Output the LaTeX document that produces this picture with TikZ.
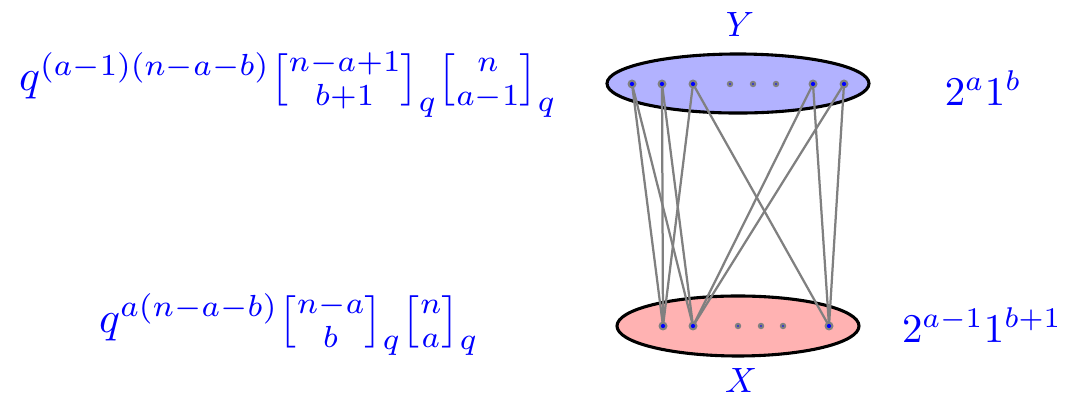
\documentclass[tikz,border=0pt]{standalone}
\usepackage{amsmath}
\newcommand{\qbin}[2]{\genfrac{[}{]}{0pt}{}{#1}{#2}_q}
\tikzset{
	lab/.style={text=blue,inner sep=0pt},
	biglab/.style={lab,scale=1.55,transform shape},
	bigdot/.style={circle,fill=gray,inner sep=0pt,minimum size=3.2pt,
		path picture={\fill[blue] (path picture bounding box.center) circle (0.75pt);}},
	smalldot/.style={circle,fill=gray,inner sep=0pt,minimum size=2.3pt,
		path picture={\fill[blue] (path picture bounding box.center) circle (0.3pt);}},
	edge/.style={gray,thick},
}
\begin{document}
\begin{tikzpicture}[line join=round,line cap=round]
	\useasboundingbox (0,0) rectangle (13.3625,-4.975);
	% the two levels
	\draw[line width=1.1pt,fill=blue!30] (9.225,-1.044) ellipse [x radius=1.6375,y radius=0.369];
	\draw[line width=1.1pt,fill=red!30] (9.225,-4.075) ellipse [x radius=1.5125,y radius=0.375];
	\path 
	(7.9,-1.05)coordinate(T1)
	(8.275,-1.05)coordinate(T2)
	(8.6625,-1.05)coordinate(T3)
	(10.1625,-1.05)coordinate(T4)
	(10.55,-1.05)coordinate(T5)
	(8.2875,-4.075)coordinate(B1)
	(8.6625,-4.075)coordinate(B2)
	(10.3625,-4.075)coordinate(B3)
	;
	\foreach \u/\v in {T1/B1,T1/B2,T2/B1,T2/B2,T3/B1,T3/B3,T4/B2,T4/B3,T5/B2,T5/B3}
	\draw[edge] (\u)--(\v);
	\foreach \p in {T1,T2,T3,T4,T5,B1,B2,B3}
	\node[bigdot] (d\p) at (\p) {};
	\foreach \x [count=\i] in {9.125,9.4125,9.7}
	\node[smalldot] (ts\i) at (\x,-1.05) {};
	\foreach \x [count=\i] in {9.225,9.5125,9.7875}
	\node[smalldot] (bs\i) at (\x,-4.075) {};
	% labels
	\node[lab,scale=1.25] (Y) at (9.25,-0.3125) {$Y$};
	\node[lab,scale=1.25] (X) at (9.2625,-4.76) {$X$};
	\node[biglab] (topleft) at (3.6,-1.06) {$q^{(a-1)(n-a-b)}\qbin{n-a+1}{b+1}\qbin{n}{a-1}$};
	\node[biglab] (botleft) at (3.6125,-4.06) {$q^{a(n-a-b)}\qbin{n-a}{b}\qbin{n}{a}$};
	\node[lab,scale=1.45] (topright) at (12.29,-1.1) {$2^a1^b$};
	\node[lab,scale=1.45] (botright) at (12.275,-4.06) {$2^{a-1}1^{b+1}$};
\end{tikzpicture}
\end{document}
